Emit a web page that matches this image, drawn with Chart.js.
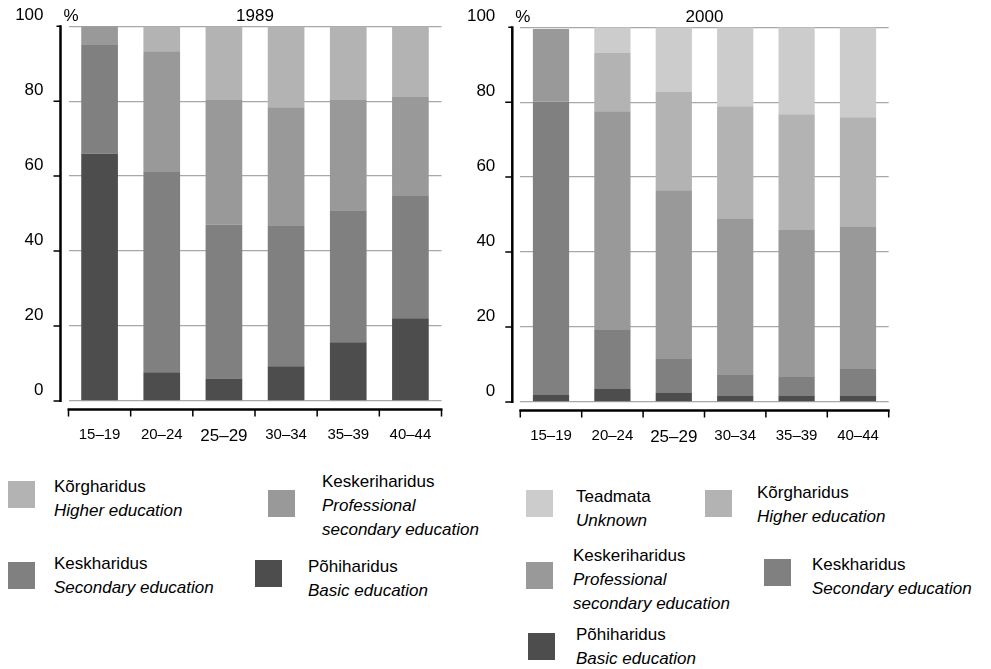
<!DOCTYPE html>
<html>
<head>
<meta charset="utf-8">
<script src="https://cdn.jsdelivr.net/npm/chart.js@4.4.0/dist/chart.umd.min.js"></script>
<style>
  html, body { margin: 0; padding: 0; background: #fff; }
  body { width: 991px; height: 669px; position: relative; overflow: hidden;
         font-family: "Liberation Sans", Arial, Helvetica, sans-serif; color: #000; }
  canvas { position: absolute; }
  .sw { position: absolute; width: 27px; height: 27px; }
  .lt { position: absolute; font-size: 17px; line-height: 24px; white-space: nowrap; }
  .lt i { font-style: italic; }
</style>
</head>
<body>
<canvas id="c1989" width="460" height="450" style="left:0;top:0;"></canvas>
<canvas id="c2000" width="531" height="450" style="left:460px;top:1px;"></canvas>
<div id="legends"></div>
<script>
// ---------- DATA ----------
const ageGroups = ["15–19", "20–24", "25–29", "30–34", "35–39", "40–44"];
const yTicks = [0, 20, 40, 60, 80, 100];

const seriesEt = ["Põhiharidus", "Keskharidus", "Keskeriharidus", "Kõrgharidus", "Teadmata"];
const seriesEn = ["Basic education", "Secondary education", "Professional secondary education", "Higher education", "Unknown"];
const seriesColors = ["#4d4d4d", "#808080", "#999999", "#b3b3b3", "#cccccc"];

// 1989 (%)
const basic1989        = [66, 7.7, 6.0, 9.3, 15.7, 22.1];
const secondary1989    = [29, 53.6, 41.0, 37.4, 35.2, 32.8];
const professional1989 = [5, 32.0, 33.3, 31.7, 29.4, 26.2];
const higher1989       = [0, 6.7, 19.7, 21.6, 19.7, 18.9];

// 2000 (%)
const basic2000        = [1.9, 3.5, 2.4, 1.6, 1.6, 1.6];
const secondary2000    = [78.2, 15.7, 9.3, 5.6, 5.1, 7.2];
const professional2000 = [19.4, 58.4, 44.8, 41.6, 39.2, 37.9];
const higher2000       = [0, 15.5, 26.2, 30.1, 30.9, 29.3];
const unknown2000      = [0, 6.9, 17.3, 21.1, 23.2, 24.0];

// ---------- CHARTS ----------
const FONT = '"Liberation Sans", Arial, Helvetica, sans-serif';

const customAxes = {
  id: 'customAxes',
  afterDraw(chart) {
    const ctx = chart.ctx, ca = chart.chartArea;
    const y = chart.scales.y;
    const ax = ca.left - 8;
    const y0 = y.getPixelForValue(yTicks[0]);
    const yTop = y.getPixelForValue(yTicks[yTicks.length - 1]);
    ctx.save();
    ctx.strokeStyle = '#000';
    ctx.lineWidth = 2.5;
    ctx.beginPath(); ctx.moveTo(ax, yTop - 1); ctx.lineTo(ax, y0 + 1); ctx.stroke();
    ctx.lineWidth = 1.5;
    ctx.beginPath();
    yTicks.forEach(v => {
      const py = y.getPixelForValue(v);
      const len = (v === yTicks[yTicks.length - 1]) ? 4 : 7;
      ctx.moveTo(ax - len, py); ctx.lineTo(ax, py);
    });
    ctx.stroke();
    // bottom axis
    const by = y0 + 8.5;
    ctx.lineWidth = 2.5;
    ctx.beginPath(); ctx.moveTo(ca.left - 1, by); ctx.lineTo(ca.right + 1, by); ctx.stroke();
    ctx.lineWidth = 1.5;
    const n = ageGroups.length;
    const step = (ca.right - ca.left) / n;
    ctx.beginPath();
    for (let k = 0; k <= n; k++) {
      const px = ca.left + k * step;
      ctx.moveTo(px, by); ctx.lineTo(px, by + 7);
    }
    ctx.stroke();
    // % sign
    ctx.fillStyle = '#000';
    ctx.font = '17px ' + FONT;
    ctx.textAlign = 'left';
    ctx.textBaseline = 'middle';
    ctx.fillText('%', ax + 3, yTop - 10);
    ctx.restore();
  }
};

function makeChart(id, title, seriesData, padRight, yWidth) {
  const datasets = seriesData.map((d, i) => ({
    label: seriesEt[i],
    data: d,
    backgroundColor: seriesColors[i],
    borderWidth: 0,
    categoryPercentage: 1.0,
    barPercentage: 0.59
  }));
  return new Chart(document.getElementById(id), {
    type: 'bar',
    data: { labels: ageGroups, datasets },
    options: {
      responsive: false,
      animation: false,
      events: [],
      layout: { padding: { top: 0, left: 0, bottom: 0, right: padRight } },
      plugins: {
        legend: { display: false },
        tooltip: { enabled: false },
        title: {
          display: true, text: title, fullSize: false, color: '#000',
          font: { family: FONT, size: 17, weight: 'normal', lineHeight: 1.2 },
          padding: { top: 5.8, bottom: 0 }
        }
      },
      scales: {
        x: {
          stacked: true,
          grid: { display: false },
          border: { display: false },
          ticks: {
            color: '#000', padding: 17, maxRotation: 0, autoSkip: false,
            font: (c) => ({ family: FONT, size: c.index === 2 ? 17 : 15 })
          },
          afterFit(scale) { scale.height = 49; scale.paddingLeft = 0; scale.paddingRight = 0; }
        },
        y: {
          stacked: true,
          min: yTicks[0], max: yTicks[yTicks.length - 1],
          afterBuildTicks(scale) { scale.ticks = yTicks.map(v => ({ value: v })); },
          grid: { color: '#a8a8a8', lineWidth: 1.3, drawTicks: false },
          border: { display: false },
          ticks: {
            color: '#000', padding: 25, labelOffset: -11,
            font: { family: FONT, size: 17 }
          },
          afterFit(scale) { scale.width = yWidth; scale.paddingTop = 0; scale.paddingBottom = 0; }
        }
      }
    },
    plugins: [customAxes]
  });
}

makeChart('c1989', '1989', [basic1989, secondary1989, professional1989, higher1989], 18.5, 68.5);
makeChart('c2000', '2000', [basic2000, secondary2000, professional2000, higher2000, unknown2000], 102.3, 60.3);

// ---------- LEGENDS (HTML) ----------
// [series index, swatch left, swatch top, text left, text top, English lines]
const legendItems = [
  [3, 8, 481, 54, 475, ["Higher education"]],
  [2, 268, 490, 322, 470, ["Professional", "secondary education"]],
  [1, 8, 562, 54, 552, ["Secondary education"]],
  [0, 255, 560, 308, 555, ["Basic education"]],
  [4, 526, 490, 576, 485, ["Unknown"]],
  [3, 705, 490, 757, 481, ["Higher education"]],
  [2, 526, 562, 573, 544, ["Professional", "secondary education"]],
  [1, 764, 559, 812, 553, ["Secondary education"]],
  [0, 528, 633, 576, 623, ["Basic education"]]
];
const lg = document.getElementById('legends');
legendItems.forEach(([si, sx, sy, tx, ty, en]) => {
  const sw = document.createElement('div');
  sw.className = 'sw';
  sw.style.left = sx + 'px'; sw.style.top = sy + 'px';
  sw.style.background = seriesColors[si];
  lg.appendChild(sw);
  const t = document.createElement('div');
  t.className = 'lt';
  t.style.left = tx + 'px'; t.style.top = ty + 'px';
  t.innerHTML = seriesEt[si] + '<br>' + en.map(s => '<i>' + s + '</i>').join('<br>');
  lg.appendChild(t);
});
</script>
</body>
</html>
